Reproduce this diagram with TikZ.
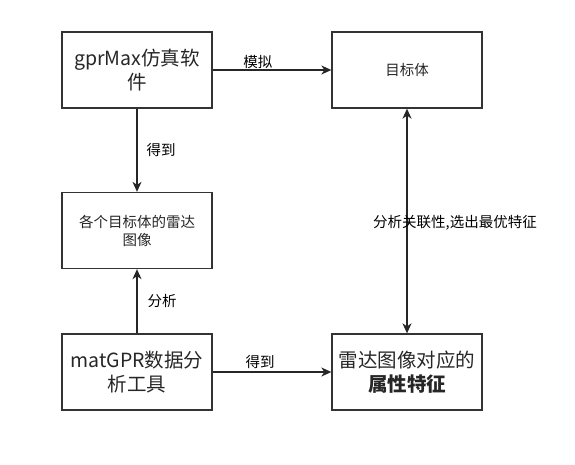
\documentclass[tikz,border=0pt]{standalone}
\usepackage{fontspec}
\setmainfont{Noto Sans CJK SC}
\usetikzlibrary{arrows.meta}
\tikzset{
  box/.style={draw=black!80,line width=1.3pt,minimum width=150pt,minimum height=76pt,align=center,inner sep=2pt,text=black!85},
  big/.style={font=\fontsize{19.5}{24}\selectfont},
  small/.style={font=\fontsize{14.5}{18}\selectfont},
  link/.style={draw=black!85,line width=1.3pt,-{Stealth[length=10pt,width=9pt,inset=3pt]}},
  lbl/.style={font=\fontsize{14.5}{18}\selectfont,inner sep=1pt}
}

\begin{document}
\begin{tikzpicture}[x=1pt,y=-1pt]
  \useasboundingbox (0,0) rectangle (575,464);

  \node[box,big] (gpr) at (137,70) {gprMax仿真软\\件};
  \node[box,small] (target) at (407,70) {目标体};
  \node[box,small] (images) at (137,230.5) {各个目标体的雷达\\图像};
  \node[box,big] (matgpr) at (137,372) {matGPR数据分\\析工具};
  \node[box,big] (feature) at (407,372) {雷达图像对应的\\\textbf{属性特征}};

  \draw[link] (gpr) -- node[lbl,above,pos=0.38] {模拟} (target);
  \draw[link] (gpr) -- node[lbl,right,xshift=8pt] {得到} (images);
  \draw[link] (matgpr) -- node[lbl,right,xshift=9pt] {分析} (images);
  \draw[link] (matgpr) -- node[lbl,above,pos=0.4,yshift=2pt] {得到} (feature);
  \draw[link,{Stealth[length=10pt,width=9pt,inset=3pt]}-{Stealth[length=10pt,width=9pt,inset=3pt]}] (target) -- node[lbl,xshift=48pt,yshift=-2pt] {分析关联性,选出最优特征} (feature);
\end{tikzpicture}
\end{document}
